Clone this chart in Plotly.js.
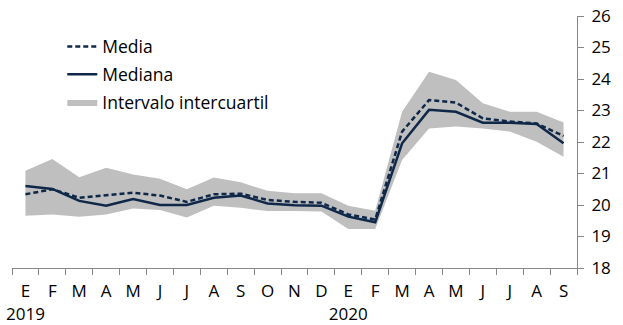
<!DOCTYPE html>
<html>
<head>
<meta charset="utf-8">
<script src="https://cdn.plot.ly/plotly-3.0.1.min.js"></script>
<style>html,body{margin:0;padding:0;background:#fff;}#chart{width:623px;height:325px;}</style>
</head>
<body>
<div id="chart"></div>
<script>
const categories = ["2019-01","2019-02","2019-03","2019-04","2019-05","2019-06","2019-07","2019-08","2019-09","2019-10","2019-11","2019-12",
  "2020-01","2020-02","2020-03","2020-04","2020-05","2020-06","2020-07","2020-08","2020-09"];
const tickLabels = ["E<br>2019","F","M","A","M","J","J","A","S","O","N","D","E<br>2020","F","M","A","M","J","J","A","S"];
const media   = [20.34,20.50,20.23,20.30,20.39,20.30,20.10,20.34,20.36,20.16,20.10,20.07,19.70,19.54,22.33,23.33,23.25,22.75,22.65,22.59,22.19];
const mediana = [20.60,20.51,20.13,19.98,20.19,20.00,20.00,20.23,20.30,20.05,19.99,19.98,19.63,19.45,21.96,23.02,22.96,22.61,22.61,22.57,21.96];
const q1      = [19.66,19.70,19.63,19.70,19.89,19.84,19.60,19.98,19.91,19.81,19.81,19.79,19.24,19.24,21.43,22.43,22.49,22.43,22.33,22.01,21.53];
const q3      = [21.09,21.46,20.88,21.18,20.97,20.83,20.50,20.87,20.72,20.45,20.37,20.37,19.98,19.82,22.96,24.23,23.97,23.23,22.96,22.96,22.62];

const navy = "#0f2748";
const traces = [
  {x: categories, y: q1, type: "scatter", mode: "lines", line: {width: 0, color: "#bfbfbf"}, showlegend: false, hoverinfo: "skip"},
  {x: categories, y: q3, type: "scatter", mode: "lines", fill: "tonexty", fillcolor: "#bfbfbf", line: {width: 0, color: "#bfbfbf"},
   name: "Intervalo intercuartil", legendrank: 3, legendgroup: "c"},
  {x: categories, y: mediana, type: "scatter", mode: "lines", line: {color: navy, width: 2.5}, name: "Mediana", legendrank: 2, legendgroup: "b"},
  {x: categories, y: media, type: "scatter", mode: "lines", line: {color: navy, width: 2.5, dash: "5px,3px"}, name: "Media", legendrank: 1, legendgroup: "a"}
];

const font = "'Open Sans', sans-serif";
const layout = {
  width: 623, height: 325,
  margin: {l: 12, r: 46, t: 16, b: 57},
  paper_bgcolor: "#fff", plot_bgcolor: "#fff",
  font: {family: font, size: 17, color: "#000"},
  showlegend: true,
  legend: {x: 0.089, y: 0.95, xanchor: "left", yanchor: "top", bgcolor: "rgba(0,0,0,0)",
           font: {family: font, size: 17.5, color: "#000"}, traceorder: "grouped", tracegroupgap: 2},
  xaxis: {type: "category", tickmode: "array", tickvals: categories, ticktext: tickLabels,
          tickson: "boundaries", ticks: "outside", ticklen: 6, tickcolor: "#868686",
          showline: true, linecolor: "#868686", linewidth: 1, showgrid: false, zeroline: false,
          range: [-0.5, 20.5], tickangle: 0, ticklabelstandoff: 8, fixedrange: true},
  yaxis: {side: "right", range: [18, 26], dtick: 1, ticks: "outside", ticklen: 6, tickcolor: "#868686",
          showline: true, linecolor: "#868686", linewidth: 1, showgrid: false, zeroline: false,
          ticklabelstandoff: 4, fixedrange: true}
};
Plotly.newPlot("chart", traces, layout, {displayModeBar: false, staticPlot: true});
</script>
</body>
</html>
